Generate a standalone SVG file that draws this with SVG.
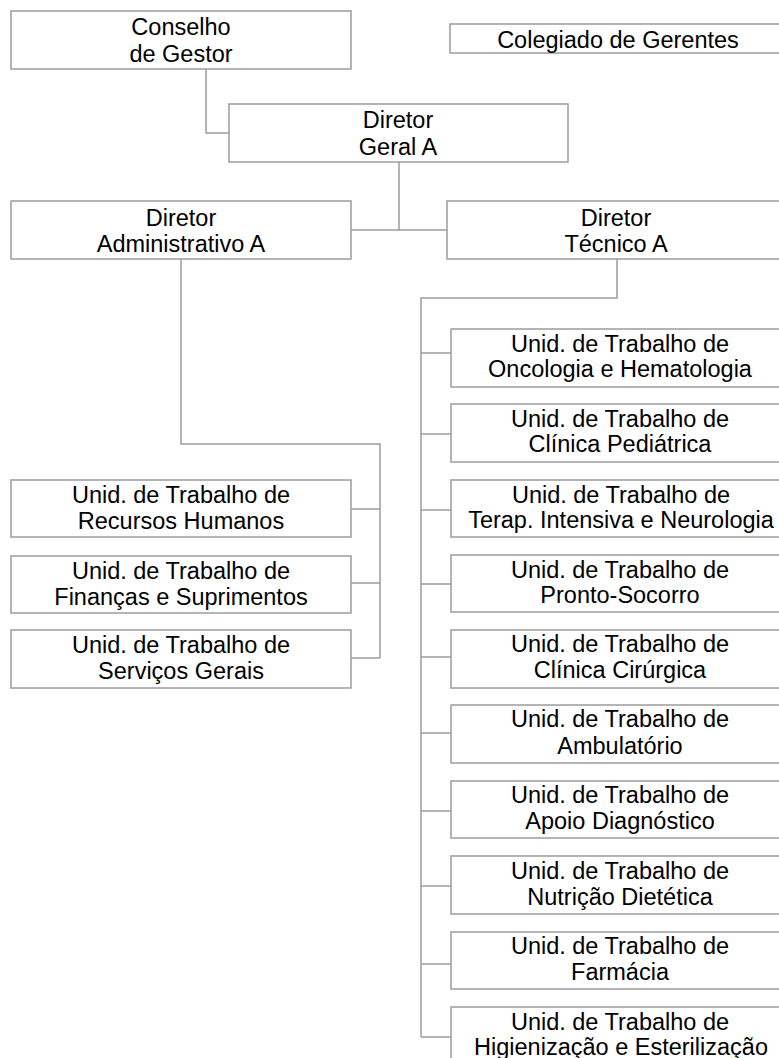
<svg xmlns="http://www.w3.org/2000/svg" width="779" height="1058" viewBox="0 0 779 1058">
<style>
rect{fill:#fff;stroke:#9c9c9c;stroke-width:1.5}
text{font-family:"Liberation Sans",Arial,sans-serif;font-size:23.5px;fill:#000;text-anchor:middle}
#connectors path{fill:none;stroke:#9c9c9c;stroke-width:1.5}
</style>
<rect x="0" y="0" width="779" height="1058" style="stroke:none"/>
<g id="connectors">
<path d="M206,69 V133 H229"/>
<path d="M399,162 V230 M351,230 H447"/>
<path d="M181,259 V444 H380 V658 M351,509 H380 M351,583 H380 M351,658 H380"/>
<path d="M617,259 V298 H421 V1037 M421,353 H451 M421,434 H451 M421,510 H451 M421,584 H451 M421,657 H451 M421,733 H451 M421,811 H451 M421,886 H451 M421,964 H451 M421,1037 H451"/>
</g>
<g id="conselho"><rect x="11" y="11" width="340" height="58"/>
<text><tspan x="181" y="35">Conselho</tspan><tspan x="181" y="61.5">de Gestor</tspan></text></g>
<g id="colegiado"><rect x="450" y="24" width="340" height="29"/>
<text x="618" y="48">Colegiado de Gerentes</text></g>
<g id="diretor-geral"><rect x="229" y="104" width="339" height="58"/>
<text><tspan x="398" y="128">Diretor</tspan><tspan x="398" y="154.5">Geral A</tspan></text></g>
<g id="diretor-adm"><rect x="11" y="201" width="340" height="58"/>
<text><tspan x="181" y="225.5">Diretor</tspan><tspan x="181" y="252">Administrativo A</tspan></text></g>
<g id="diretor-tec"><rect x="447" y="201" width="340" height="58"/>
<text><tspan x="616" y="225.5">Diretor</tspan><tspan x="616" y="252">Técnico A</tspan></text></g>
<g id="rh"><rect x="11" y="480" width="340" height="57"/>
<text><tspan x="181" y="503">Unid. de Trabalho de</tspan><tspan x="181" y="529">Recursos Humanos</tspan></text></g>
<g id="financas"><rect x="11" y="556" width="340" height="57"/>
<text><tspan x="181" y="579">Unid. de Trabalho de</tspan><tspan x="181" y="605">Finanças e Suprimentos</tspan></text></g>
<g id="servicos"><rect x="11" y="630" width="340" height="58"/>
<text><tspan x="181" y="653">Unid. de Trabalho de</tspan><tspan x="181" y="679">Serviços Gerais</tspan></text></g>
<g id="oncologia"><rect x="451" y="329" width="340" height="58"/>
<text><tspan x="620" y="351.5">Unid. de Trabalho de</tspan><tspan x="620" y="377">Oncologia e Hematologia</tspan></text></g>
<g id="pediatrica"><rect x="451" y="404" width="340" height="58"/>
<text><tspan x="620" y="426.5">Unid. de Trabalho de</tspan><tspan x="620" y="452">Clínica Pediátrica</tspan></text></g>
<g id="terapia"><rect x="451" y="480" width="340" height="57"/>
<text><tspan x="621" y="502.5">Unid. de Trabalho de</tspan><tspan x="621" y="528">Terap. Intensiva e Neurologia</tspan></text></g>
<g id="pronto"><rect x="451" y="555" width="340" height="57"/>
<text><tspan x="620" y="577.5">Unid. de Trabalho de</tspan><tspan x="620" y="603">Pronto-Socorro</tspan></text></g>
<g id="cirurgica"><rect x="451" y="630" width="340" height="58"/>
<text><tspan x="620" y="652">Unid. de Trabalho de</tspan><tspan x="620" y="678">Clínica Cirúrgica</tspan></text></g>
<g id="ambulatorio"><rect x="451" y="705" width="340" height="58"/>
<text><tspan x="620" y="727">Unid. de Trabalho de</tspan><tspan x="620" y="754">Ambulatório</tspan></text></g>
<g id="apoio"><rect x="451" y="781" width="340" height="57"/>
<text><tspan x="620" y="803">Unid. de Trabalho de</tspan><tspan x="620" y="829">Apoio Diagnóstico</tspan></text></g>
<g id="nutricao"><rect x="451" y="856" width="340" height="58"/>
<text><tspan x="620" y="879">Unid. de Trabalho de</tspan><tspan x="620" y="905">Nutrição Dietética</tspan></text></g>
<g id="farmacia"><rect x="451" y="932" width="340" height="57"/>
<text><tspan x="620" y="954">Unid. de Trabalho de</tspan><tspan x="620" y="980">Farmácia</tspan></text></g>
<g id="higienizacao"><rect x="451" y="1007" width="340" height="60"/>
<text><tspan x="620" y="1029.5">Unid. de Trabalho de</tspan><tspan x="621" y="1055">Higienização e Esterilização</tspan></text></g>
</svg>
